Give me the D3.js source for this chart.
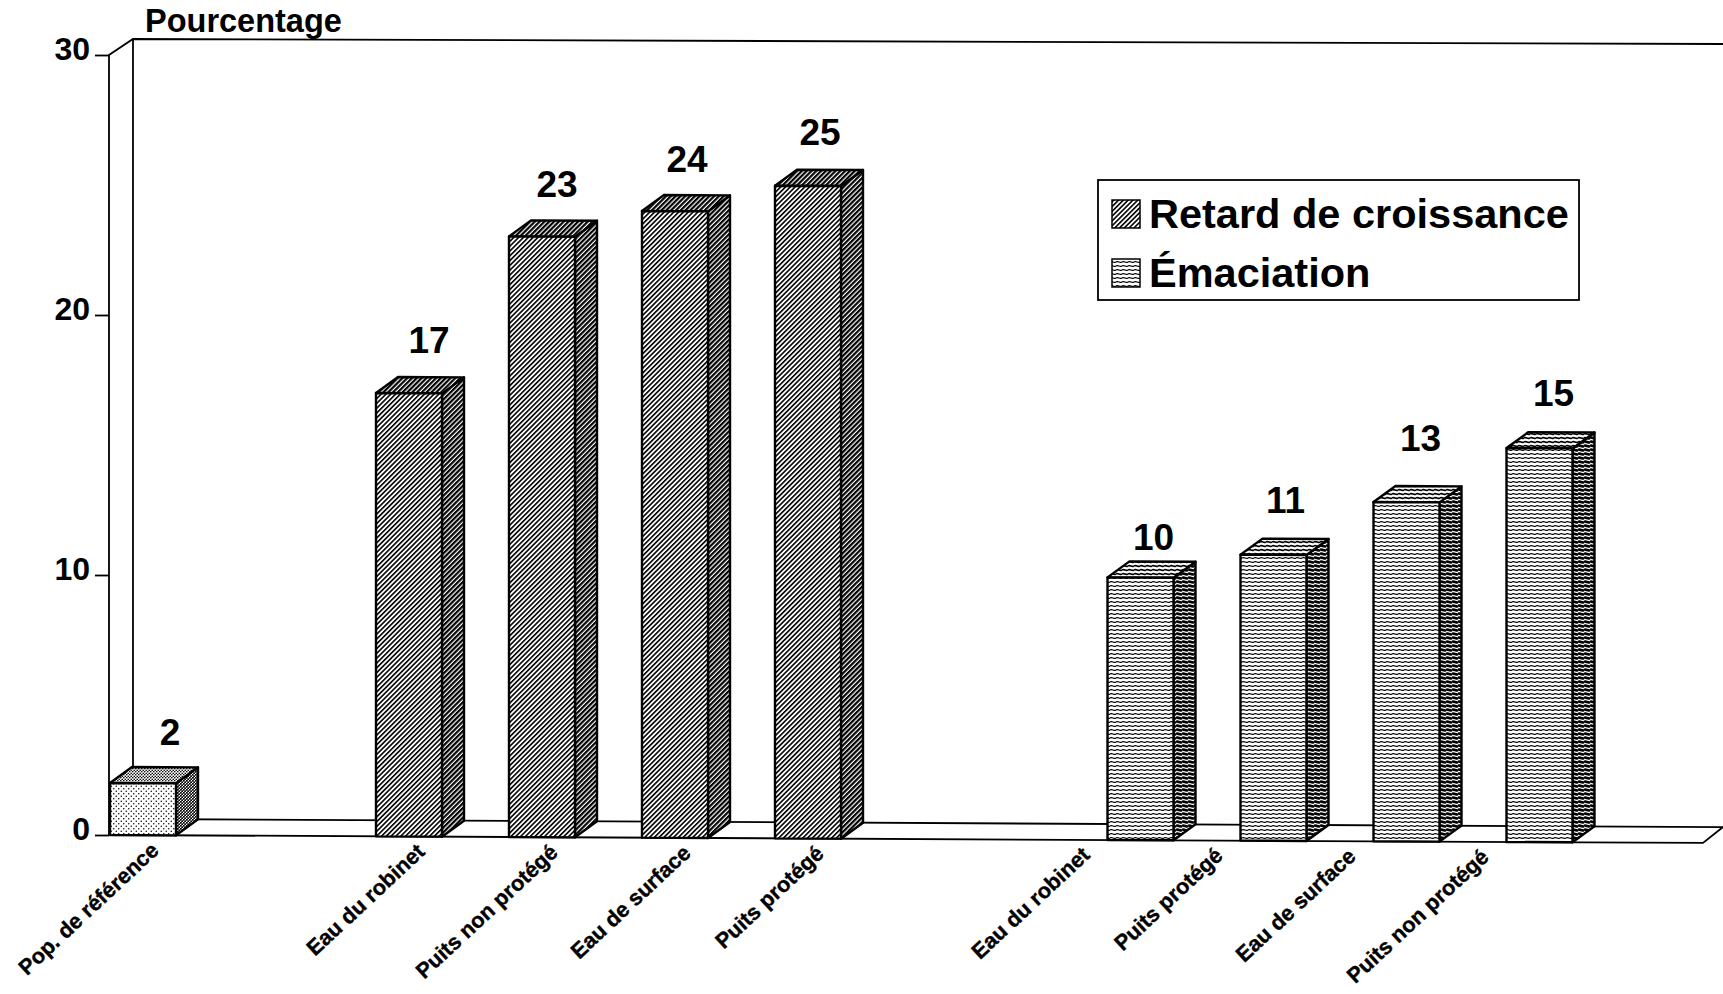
<!DOCTYPE html>
<html>
<head>
<meta charset="utf-8">
<script src="https://cdn.jsdelivr.net/npm/d3@7"></script>
<style>
  html, body { margin: 0; padding: 0; background: #fff; }
  svg { display: block; }
  text { font-family: "Liberation Sans", Arial, sans-serif; font-weight: bold; fill: #000; }
</style>
</head>
<body>
<svg id="chart"></svg>
<script>
const refCategories = ['Pop. de référence'];
const retardCategories = ['Eau du robinet', 'Puits non protégé', 'Eau de surface', 'Puits protégé'];
const emaciationCategories = ['Eau du robinet', 'Puits protégé', 'Eau de surface', 'Puits non protégé'];
const refValues = [2.0];
const retardValues = [17.05, 23.1, 24.1, 25.1];
const emaciationValues = [10.1, 11.0, 13.05, 15.15];
const yTicks = [0, 10, 20, 30];
const legendLabels = ['Retard de croissance', 'Émaciation'];

const width = 1723;
const height = 994;
const barWidth = 66;
const depthX = 22;
const depthY = -16;
const skew = 0.005; // the scanned page is a little crooked

const svg = d3.select('#chart').attr('width', width).attr('height', height);
const defs = svg.append('defs');

function stripes(id, size, ink, angle) {
  const p = defs.append('pattern')
    .attr('id', id)
    .attr('patternUnits', 'userSpaceOnUse')
    .attr('width', size)
    .attr('height', size)
    .attr('patternTransform', `rotate(${angle})`);
  p.append('rect').attr('width', size).attr('height', size).attr('fill', '#fff');
  p.append('rect').attr('width', size).attr('height', ink).attr('fill', '#000');
}
function waves(id, ink) {
  const p = defs.append('pattern')
    .attr('id', id)
    .attr('patternUnits', 'userSpaceOnUse')
    .attr('width', 6)
    .attr('height', 4);
  p.append('rect').attr('width', 6).attr('height', 4).attr('fill', '#fff');
  p.append('path')
    .attr('d', 'M0 2 q1.5 -0.7 3 0 t3 0')
    .attr('fill', 'none')
    .attr('stroke', '#000')
    .attr('stroke-width', ink);
}
function dots(id, size, r) {
  const p = defs.append('pattern')
    .attr('id', id)
    .attr('patternUnits', 'userSpaceOnUse')
    .attr('width', size)
    .attr('height', size);
  p.append('rect').attr('width', size).attr('height', size).attr('fill', '#fff');
  p.append('circle').attr('cx', size / 4).attr('cy', size / 4).attr('r', r).attr('fill', '#000');
  p.append('circle').attr('cx', size * 0.75).attr('cy', size * 0.75).attr('r', r).attr('fill', '#000');
}
stripes('diagFront', 3.4, 1.6, -45);
stripes('diagSide', 3.4, 2.2, -45);
stripes('diagTop', 3.4, 2.2, -45);
waves('horizFront', 1.25);
waves('horizSide', 2.6);
waves('horizTop', 1.8);
dots('dotFront', 5, 0.75);
dots('dotSide', 3, 1.05);
dots('dotTop', 3, 0.8);

const y = d3.scaleLinear().domain([0, 30]).range([835, 55]);
const slot = d3.scaleLinear().domain([0, 1]).range([110, 243]);
const shifted = (x, v) => y(v) + (x - 110) * skew;

// slot numbers for the three groups, the last group's bars sit half a slot further right
const bars = [
  ...refCategories.map((name, i) => ({ name, value: refValues[i], s: i, barShift: 0, kind: 'dot' })),
  ...retardCategories.map((name, i) => ({ name, value: retardValues[i], s: i + 2, barShift: 0, kind: 'diag' })),
  ...emaciationCategories.map((name, i) => ({ name, value: emaciationValues[i], s: i + 7, barShift: 0.5, kind: 'horiz' })),
];

// back wall and floor
const wall = svg.append('g')
  .attr('fill', 'none')
  .attr('stroke', '#000')
  .attr('stroke-width', 1.8);
const line = d3.line();
wall.append('path').attr('d', line([
  [109, y(0)], [109, y(30)], [133, y(30) + depthY], [1723, y(30) + depthY + 5],
]));
wall.append('path').attr('d', line([[133, y(30) + depthY], [133, y(0) + depthY]]));
wall.append('path').attr('d', line([
  [109, y(0)], [1703, shifted(1703, 0)], [1723, shifted(1723, 0) + depthY],
]));
wall.append('path').attr('d', line([[133, y(0) + depthY], [1723, shifted(1723, 0) + depthY]]));

// y axis
const yAxis = svg.append('g')
  .attr('transform', 'translate(109,0)')
  .call(d3.axisLeft(y).tickValues(yTicks).tickSize(14).tickPadding(5).tickFormat(d3.format('d')));
yAxis.select('.domain').remove();
yAxis.selectAll('line').attr('stroke', '#000').attr('stroke-width', 1.8);
yAxis.selectAll('text')
  .attr('dy', null)
  .attr('y', 4)
  .style('font-size', '32px')
  .style('font-family', '"Liberation Sans", Arial, sans-serif')
  .style('font-weight', 'bold');

svg.append('text')
  .attr('x', 145)
  .attr('y', 32)
  .style('font-size', '32.5px')
  .text('Pourcentage');

// bars
const bar = svg.append('g').selectAll('g').data(bars).join('g')
  .attr('stroke', '#000')
  .attr('stroke-width', 2.4)
  .attr('stroke-linejoin', 'round');

function barPoints(d) {
  const x0 = slot(d.s + d.barShift);
  const x1 = x0 + barWidth;
  return {
    x0,
    x1,
    base0: shifted(x0, 0),
    base1: shifted(x1, 0),
    top0: shifted(x0, d.value),
    top1: shifted(x1, d.value),
  };
}
bar.append('path')
  .attr('fill', (d) => `url(#${d.kind}Side)`)
  .attr('d', (d) => {
    const p = barPoints(d);
    return line([
      [p.x1, p.base1], [p.x1 + depthX, p.base1 + depthY],
      [p.x1 + depthX, p.top1 + depthY], [p.x1, p.top1],
    ]) + 'Z';
  });
bar.append('path')
  .attr('fill', (d) => `url(#${d.kind}Top)`)
  .attr('d', (d) => {
    const p = barPoints(d);
    return line([
      [p.x0, p.top0], [p.x0 + depthX, p.top0 + depthY],
      [p.x1 + depthX, p.top1 + depthY], [p.x1, p.top1],
    ]) + 'Z';
  });
bar.append('path')
  .attr('fill', (d) => `url(#${d.kind}Front)`)
  .attr('d', (d) => {
    const p = barPoints(d);
    return line([[p.x0, p.base0], [p.x1, p.base1], [p.x1, p.top1], [p.x0, p.top0]]) + 'Z';
  });

// value labels, the original placed these by hand so they wander a bit
const labelNudge = [[13, 2], [6, 0], [1, 0], [-2, 1], [-2, -1], [-1, 12], [-2, -2], [0, -11], [0, -2]];
svg.append('g').selectAll('text').data(bars).join('text')
  .attr('text-anchor', 'middle')
  .attr('x', (d, i) => slot(d.s + d.barShift) + barWidth / 2 + 14 + labelNudge[i][0])
  .attr('y', (d, i) => barPoints(d).top1 - 40 + labelNudge[i][1])
  .style('font-size', '37px')
  .text((d) => d3.format('.0f')(d.value));

// category labels
svg.append('g').selectAll('text').data(bars).join('text')
  .attr('text-anchor', 'end')
  .attr('transform', (d) => `translate(${slot(d.s) + 50},${shifted(slot(d.s), 0) + 17}) rotate(-43)`)
  .attr('stroke', '#000')
  .attr('stroke-width', 0.4)
  .style('font-size', '21.7px')
  .text((d) => d.name);

// legend
const legend = svg.append('g');
legend.append('rect')
  .attr('x', 1098).attr('y', 180).attr('width', 481).attr('height', 120)
  .attr('fill', '#fff').attr('stroke', '#000').attr('stroke-width', 1.8);
const legendKinds = ['diag', 'horiz'];
const legendY = d3.scalePoint().domain(legendLabels).range([228, 287]);
legend.selectAll('rect.swatch').data(legendLabels).join('rect')
  .attr('class', 'swatch')
  .attr('x', 1112)
  .attr('y', (d) => legendY(d) - 28)
  .attr('width', 28)
  .attr('height', 28)
  .attr('fill', (d, i) => `url(#${legendKinds[i]}Front)`)
  .attr('stroke', '#000')
  .attr('stroke-width', 1.5);
legend.selectAll('text').data(legendLabels).join('text')
  .attr('x', 1149)
  .attr('y', (d) => legendY(d))
  .style('font-size', '41.5px')
  .text((d) => d);
</script>
</body>
</html>
